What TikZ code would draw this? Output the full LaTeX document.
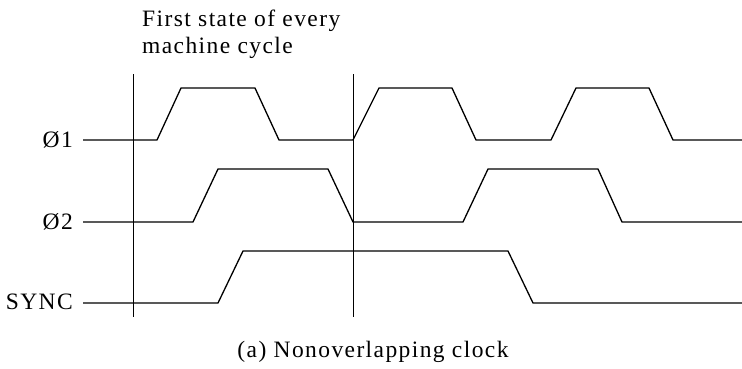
\documentclass[tikz,border=0pt]{standalone}
\usepackage{fontspec}
\setmainfont{Liberation Serif}
\newfontfamily\txtfont[LetterSpace=6]{Liberation Serif}
\begin{document}
\begin{tikzpicture}[x=1pt,y=-1pt,
  wave/.style={line width=1.3pt, line join=miter},
  marker/.style={line width=0.9pt},
  lbl/.style={anchor=base east, inner sep=0pt, font=\txtfont\fontsize{23.5}{27}\selectfont},
  txt/.style={inner sep=0pt, font=\txtfont\fontsize{23.5}{27}\selectfont}]
\useasboundingbox (0,0) rectangle (742,368);
% title
\node[txt, anchor=north west, align=left] (title) at (142,9.5) {First state of every\\machine cycle};
% signal labels
\node[lbl] (l1) at (73,147.5) {Ø1};
\node[lbl] (l2) at (73,229.5) {Ø2};
\node[lbl] (l3) at (73,309.5) {SYNC};
% caption
\node[txt, anchor=base] (cap) at (373,357) {(a) Nonoverlapping clock};
% marker lines
\coordinate (m1t) at (133,74); \coordinate (m1b) at (133,317);
\coordinate (m2t) at (353,74); \coordinate (m2b) at (353,317);
\draw[marker] (m1t) -- (m1b);
\draw[marker] (m2t) -- (m2b);
% phi1
\draw[wave] (83,140)--(157,140)--(181,88)--(255,88)--(279,140)--(353,140)--(379,88)--(452,88)--(476,140)--(551,140)--(576,88)--(649,88)--(673,140)--(742,140);
% phi2
\draw[wave] (83,222)--(193,222)--(218,169)--(328,169)--(353,222)--(463,222)--(488,169)--(598,169)--(622,222)--(742,222);
% SYNC
\draw[wave] (83,303)--(218,303)--(243,251)--(508,251)--(533,303)--(742,303);
\end{tikzpicture}
\end{document}
